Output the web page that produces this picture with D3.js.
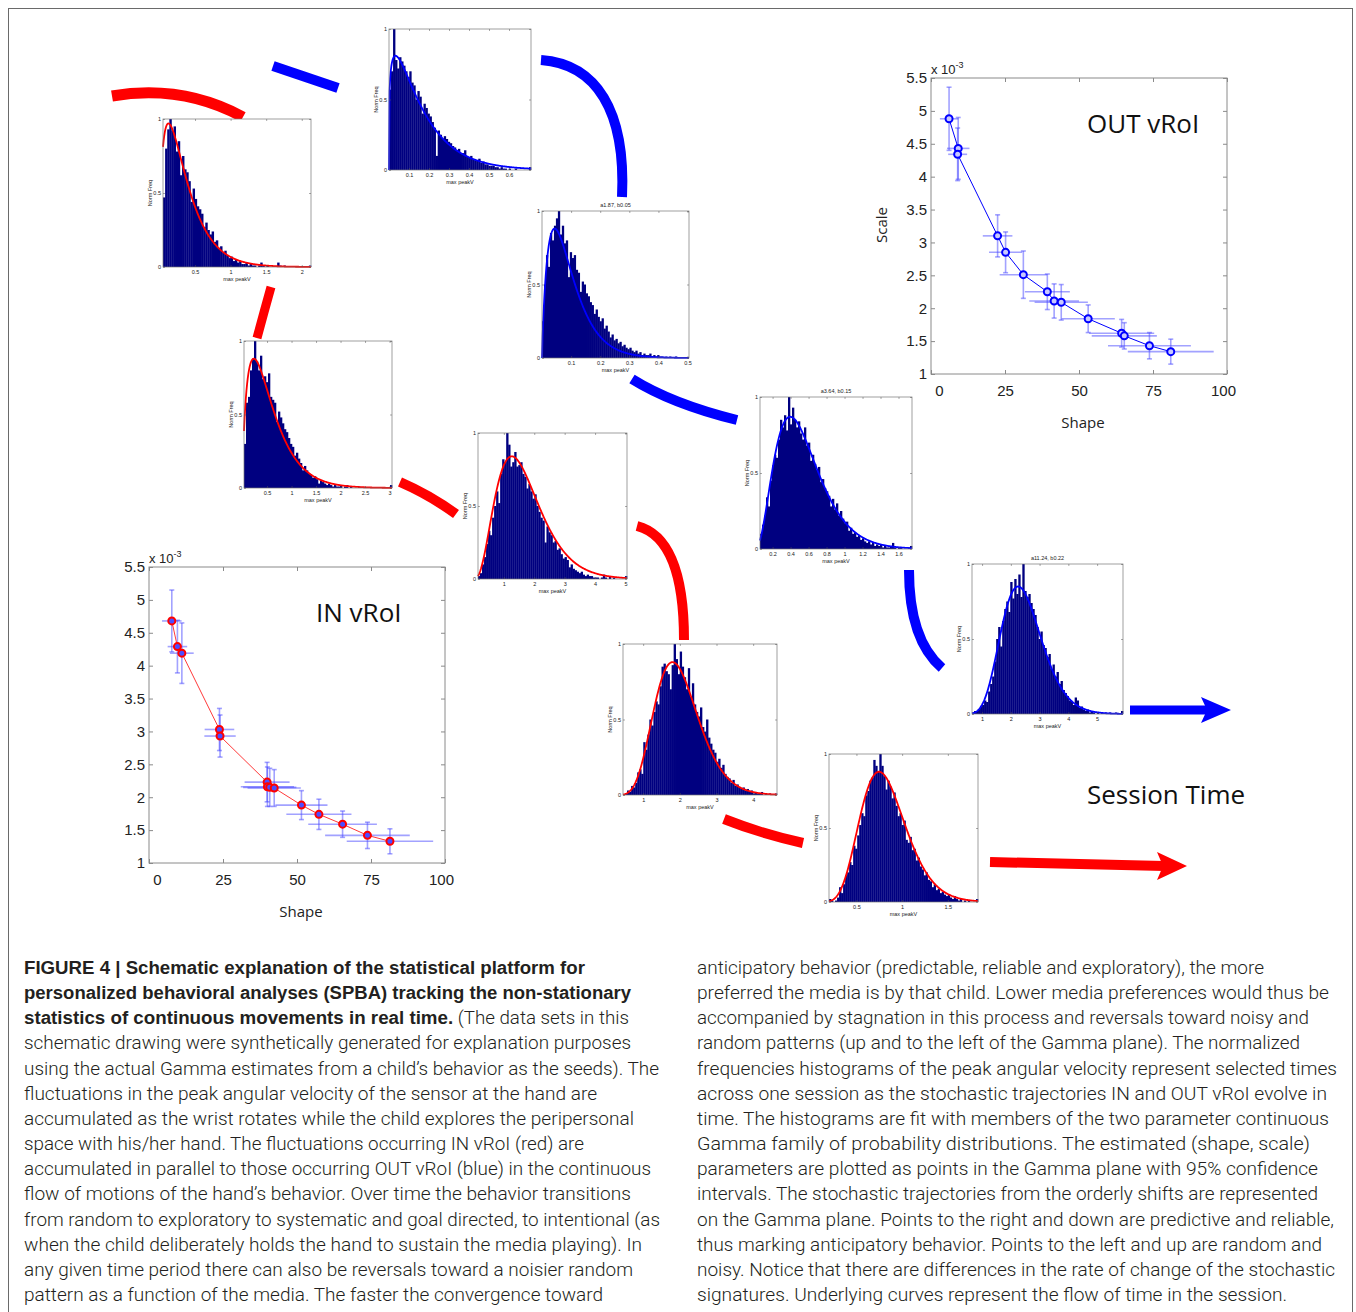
<!DOCTYPE html>
<html>
<head>
<meta charset="utf-8">
<script src="https://cdn.jsdelivr.net/npm/d3@7"></script>
<style>
  body { margin: 0; background: #fff; }
  svg { display: block; }
</style>
</head>
<body>
<svg id="fig" width="1356" height="1312"></svg>
<script>
// ---------------- Histogram data (normalized frequency per bin) ----------------
const hist1Values = [0.47,0.80,0.93,1.00,0.92,0.95,0.78,0.85,0.62,0.75,
  0.66,0.64,0.58,0.44,0.53,0.46,0.41,0.39,0.36,0.27,
  0.30,0.25,0.22,0.24,0.17,0.18,0.13,0.14,0.10,0.11,
  0.08,0.06,0.07,0.04,0.05,0.03,0.04,0.02,0.02,0.03,
  0.01,0.02,0.01,0.01,0.00,0.01,0.03,0.01,0.00,0.01,
  0.00,0.00,0.00,0.00,0.03,0.01,0.00,0.01,0.00,0.00,
  0.00,0.00,0.00,0.00,0.00,0.00,0.00,0.00,0.00,0.01];
const hist2Values = [0.57,0.70,1.00,0.78,0.72,0.80,0.77,0.74,0.70,0.66,
  0.70,0.62,0.60,0.50,0.56,0.52,0.40,0.47,0.44,0.40,
  0.38,0.34,0.30,0.10,0.28,0.25,0.22,0.24,0.22,0.20,
  0.19,0.17,0.16,0.14,0.15,0.12,0.12,0.14,0.10,0.09,
  0.10,0.08,0.07,0.07,0.08,0.05,0.06,0.04,0.04,0.03,
  0.03,0.03,0.02,0.02,0.01,0.02,0.01,0.01,0.00,0.01,
  0.00,0.00,0.01,0.00,0.00,0.00,0.00,0.00,0.00,0.02];
const hist3Values = [0.25,0.50,0.70,0.62,0.85,0.80,0.90,0.95,1.00,0.84,
  0.90,0.78,0.80,0.55,0.72,0.68,0.70,0.60,0.58,0.45,
  0.52,0.50,0.44,0.42,0.38,0.36,0.30,0.33,0.28,0.25,
  0.27,0.20,0.22,0.18,0.14,0.16,0.12,0.13,0.10,0.11,
  0.08,0.09,0.07,0.06,0.07,0.05,0.04,0.05,0.03,0.04,
  0.02,0.03,0.02,0.02,0.03,0.01,0.02,0.01,0.02,0.01,
  0.01,0.00,0.01,0.00,0.01,0.00,0.00,0.01,0.00,0.00,
  0.00,0.00,0.00,0.00];
const hist4Values = [0.30,0.58,0.62,0.80,0.88,1.00,0.86,0.80,0.90,0.74,
  0.76,0.72,0.78,0.62,0.60,0.58,0.45,0.52,0.48,0.44,
  0.40,0.38,0.34,0.30,0.28,0.22,0.24,0.20,0.17,0.12,
  0.15,0.12,0.10,0.09,0.07,0.08,0.06,0.03,0.05,0.04,
  0.03,0.02,0.03,0.02,0.01,0.02,0.01,0.01,0.02,0.00,
  0.01,0.02,0.00,0.01,0.00,0.00,0.00,0.01,0.00,0.00,
  0.00,0.00,0.00,0.00,0.00,0.00,0.00,0.00,0.00,0.00,
  0.00,0.00,0.00,0.02];
const hist5Values = [0.02,0.04,0.10,0.15,0.24,0.33,0.30,0.42,0.50,0.60,
  0.52,0.72,0.82,0.80,1.00,0.92,0.77,0.80,0.87,0.77,
  0.78,0.80,0.72,0.70,0.62,0.65,0.60,0.55,0.58,0.50,
  0.46,0.42,0.40,0.25,0.36,0.32,0.30,0.25,0.26,0.20,
  0.21,0.17,0.14,0.15,0.13,0.08,0.10,0.07,0.06,0.05,
  0.04,0.05,0.03,0.02,0.03,0.02,0.02,0.01,0.01,0.01,
  0.00,0.01,0.03,0.01,0.00,0.02,0.00,0.01,0.00,0.00,
  0.00,0.00,0.00,0.02];
const hist6Values = [0.10,0.16,0.22,0.34,0.28,0.45,0.55,0.62,0.60,0.72,
  0.85,0.80,0.88,0.78,1.00,0.82,0.93,0.85,0.80,0.84,
  0.76,0.72,0.80,0.68,0.70,0.58,0.62,0.56,0.52,0.54,
  0.44,0.46,0.40,0.38,0.35,0.28,0.33,0.26,0.30,0.22,
  0.25,0.20,0.17,0.18,0.12,0.14,0.10,0.11,0.08,0.09,
  0.06,0.07,0.05,0.04,0.05,0.03,0.04,0.02,0.03,0.02,
  0.03,0.01,0.02,0.01,0.01,0.02,0.04,0.01,0.00,0.01,
  0.01,0.00,0.00,0.00,0.01,0.02];
const hist7Values = [0.00,0.01,0.03,0.02,0.06,0.05,0.08,0.15,0.17,0.14,
  0.35,0.30,0.40,0.50,0.46,0.55,0.62,0.60,0.72,0.85,
  0.87,0.82,0.80,0.70,0.86,1.00,0.90,0.80,0.95,0.85,
  0.78,0.70,0.84,0.65,0.74,0.60,0.55,0.52,0.58,0.45,
  0.42,0.50,0.38,0.34,0.30,0.28,0.22,0.24,0.18,0.20,
  0.14,0.12,0.11,0.08,0.10,0.06,0.07,0.05,0.04,0.05,
  0.03,0.04,0.02,0.03,0.01,0.02,0.01,0.01,0.02,0.00,
  0.01,0.00,0.01,0.00,0.00,0.01];
const hist8Values = [0.01,0.02,0.02,0.03,0.05,0.06,0.09,0.08,0.15,0.20,
  0.25,0.35,0.50,0.58,0.45,0.62,0.70,0.75,0.68,0.88,
  0.77,0.90,0.80,0.93,0.78,1.00,0.82,0.78,0.80,0.74,
  0.70,0.66,0.58,0.50,0.55,0.46,0.44,0.38,0.40,0.30,
  0.33,0.25,0.28,0.20,0.22,0.16,0.14,0.12,0.09,0.08,
  0.06,0.11,0.09,0.04,0.05,0.03,0.02,0.03,0.01,0.02,
  0.01,0.00,0.01,0.00,0.01,0.00,0.01,0.00,0.01,0.00,
  0.00,0.01,0.00,0.00,0.02];
const hist9Values = [0.02,0.01,0.00,0.01,0.03,0.10,0.06,0.12,0.18,0.20,
  0.27,0.25,0.38,0.36,0.45,0.52,0.60,0.58,0.72,0.75,
  0.82,0.84,0.96,0.92,0.88,1.00,0.92,0.85,0.76,0.82,
  0.78,0.70,0.74,0.65,0.58,0.60,0.52,0.55,0.42,0.40,
  0.44,0.35,0.36,0.28,0.30,0.24,0.22,0.18,0.20,0.15,
  0.14,0.10,0.12,0.08,0.09,0.06,0.07,0.05,0.04,0.05,
  0.03,0.02,0.04,0.02,0.01,0.02,0.00,0.01,0.00,0.01,
  0.00,0.00,0.00,0.02];

// Value range of "max peakV" covered by each histogram's bins
const histRanges = [[0.05,2.13],[0.0,0.71],[0.0,0.505],[0.03,3.05],[0.15,5.05],
                    [0.06,1.75],[0.45,4.65],[0.65,5.9],[0.2,1.83]];
// Tick labels on each histogram's x axis
const histTicks = [[0.5,1,1.5,2],[0.1,0.2,0.3,0.4,0.5,0.6],[0.1,0.2,0.3,0.4,0.5],
                   [0.5,1,1.5,2,2.5,3],[1,2,3,4,5],[0.2,0.4,0.6,0.8,1,1.2,1.4,1.6],
                   [1,2,3,4],[1,2,3,4,5],[0.5,1,1.5]];
const histTitles = ["","","a1.87, b0.05","","","a3.64, b0.15","","a11.24, b0.22",""];
const normTicks = [0,0.5,1];

// Gamma fit for each histogram: shape (a), scale (b), fitted peak height
const fitShape = [1.55,1.25,1.87,1.7,4.0,3.64,10.0,11.24,10.0];
const fitScale = [0.23,0.13,0.05,0.33,0.42,0.15,0.20,0.22,0.083];
const fitPeak  = [0.97,0.81,0.88,0.88,0.84,0.87,0.88,0.85,0.88];
// Condition of each histogram: IN vRoI (red) or OUT vRoI (blue)
const histGroup = ["IN","OUT","OUT","IN","IN","OUT","IN","OUT","IN"];

// ---------------- Gamma plane estimates (scale in units of 1e-3) ----------------
const outShape    = [6.1,9.2,9.0,22.5,25.2,31.2,39.3,41.6,44.0,53.1,64.4,65.3,73.8,81.0];
const outScale    = [4.88,4.43,4.34,3.10,2.85,2.51,2.25,2.11,2.09,1.84,1.62,1.58,1.43,1.34];
const outShapeErr = [3.1,3.8,3.2,5.0,5.6,8.0,7.6,8.4,9.0,9.0,11.0,11.0,14.0,14.5];
const outScaleErr = [0.48,0.47,0.40,0.32,0.31,0.36,0.27,0.26,0.27,0.21,0.21,0.20,0.20,0.19];

const inShape    = [7.7,9.6,11.1,23.8,24.0,39.9,40.0,40.8,42.3,51.5,57.4,65.4,73.8,81.4];
const inScale    = [4.68,4.29,4.19,3.03,2.93,2.23,2.16,2.15,2.14,1.88,1.74,1.59,1.42,1.33];
const inShapeErr = [3.3,3.3,4.0,5.0,5.3,7.6,9.0,9.0,9.0,8.8,11.0,11.6,14.3,14.6];
const inScaleErr = [0.47,0.40,0.46,0.32,0.32,0.30,0.30,0.29,0.28,0.22,0.23,0.20,0.20,0.19];

const shapeTicks = [0,25,50,75,100];
const scaleTicks = [1,1.5,2,2.5,3,3.5,4,4.5,5,5.5];

// ---------------- Caption ----------------
const captionLeft = [
  ["FIGURE 4 | Schematic explanation of the statistical platform for", ""],
  ["personalized behavioral analyses (SPBA) tracking the non-stationary", ""],
  ["statistics of continuous movements in real time.", " (The data sets in this"],
  ["", "schematic drawing were synthetically generated for explanation purposes"],
  ["", "using the actual Gamma estimates from a child\u2019s behavior as the seeds). The"],
  ["", "fluctuations in the peak angular velocity of the sensor at the hand are"],
  ["", "accumulated as the wrist rotates while the child explores the peripersonal"],
  ["", "space with his/her hand. The fluctuations occurring IN vRoI (red) are"],
  ["", "accumulated in parallel to those occurring OUT vRoI (blue) in the continuous"],
  ["", "flow of motions of the hand\u2019s behavior. Over time the behavior transitions"],
  ["", "from random to exploratory to systematic and goal directed, to intentional (as"],
  ["", "when the child deliberately holds the hand to sustain the media playing). In"],
  ["", "any given time period there can also be reversals toward a noisier random"],
  ["", "pattern as a function of the media. The faster the convergence toward"]
];
const captionRight = [
  "anticipatory behavior (predictable, reliable and exploratory), the more",
  "preferred the media is by that child. Lower media preferences would thus be",
  "accompanied by stagnation in this process and reversals toward noisy and",
  "random patterns (up and to the left of the Gamma plane). The normalized",
  "frequencies histograms of the peak angular velocity represent selected times",
  "across one session as the stochastic trajectories IN and OUT vRoI evolve in",
  "time. The histograms are fit with members of the two parameter continuous",
  "Gamma family of probability distributions. The estimated (shape, scale)",
  "parameters are plotted as points in the Gamma plane with 95% confidence",
  "intervals. The stochastic trajectories from the orderly shifts are represented",
  "on the Gamma plane. Points to the right and down are predictive and reliable,",
  "thus marking anticipatory behavior. Points to the left and up are random and",
  "noisy. Notice that there are differences in the rate of change of the stochastic",
  "signatures. Underlying curves represent the flow of time in the session."
];

// ================= layout & style =================
const RED = "#ff0000", BLUE = "#0000ff", NAVY = "#000080";
const histValues = [hist1Values,hist2Values,hist3Values,hist4Values,hist5Values,
                    hist6Values,hist7Values,hist8Values,hist9Values];
const histBoxes = [
  {x:163, y:119, w:148, h:148},
  {x:389, y:29,  w:142, h:141},
  {x:542, y:211, w:147, h:147},
  {x:244, y:341, w:148, h:147},
  {x:478, y:433, w:149, h:146},
  {x:760, y:397, w:152, h:152},
  {x:623, y:644, w:154, h:151},
  {x:972, y:564, w:151, h:150},
  {x:829, y:754, w:149, h:148}
];
// Thick schematic strokes showing the flow of session time
const flowStrokes = [
  {group:"IN",  w:11, d:"M112,96 Q182,84 243,117"},
  {group:"IN",  w:9,  d:"M271,287 Q264,312 257,338"},
  {group:"IN",  w:10, d:"M400,482 Q430,495 456,514"},
  {group:"IN",  w:10, d:"M637,526 Q684,538 684,640"},
  {group:"IN",  w:10, d:"M724,819 Q762,834 803,843"},
  {group:"IN",  w:10, d:"M990,862 Q1080,864 1164,866"},
  {group:"OUT", w:10, d:"M273,66 L338,88"},
  {group:"OUT", w:10, d:"M541,60 C596,64 626,110 622,197"},
  {group:"OUT", w:10, d:"M632,379 Q672,404 737,420"},
  {group:"OUT", w:10, d:"M909,570 Q909,640 942,668"},
  {group:"OUT", w:9,  d:"M1130,710 L1207,710"}
];
const arrowHeads = [
  {group:"IN",  pts:[[1157,852],[1187,866],[1157,880],[1163,866]]},
  {group:"OUT", pts:[[1201,697],[1231,710],[1201,723],[1207,710]]}
];
const groupColor = g => g === "IN" ? RED : BLUE;

const svg = d3.select("#fig");
svg.append("rect").attr("width",1356).attr("height",1312).attr("fill","#fff");
svg.append("rect").attr("x",8.5).attr("y",8.5).attr("width",1344).attr("height",1330)
  .attr("fill","none").attr("stroke","#6a6a6a").attr("stroke-width",1);

// ---- flow strokes ----
svg.append("g").selectAll("path").data(flowStrokes).join("path")
  .attr("d", d => d.d).attr("fill","none")
  .attr("stroke", d => groupColor(d.group)).attr("stroke-width", d => d.w);
svg.append("g").selectAll("polygon").data(arrowHeads).join("polygon")
  .attr("points", d => d.pts.map(p => p.join(",")).join(" "))
  .attr("fill", d => groupColor(d.group));

// ---- histograms ----
function gammaRatio(v, a, b) {
  const m = (a - 1) * b;
  return Math.exp((a - 1) * Math.log(v / m) - (v - m) / b);
}

function styleSmallAxis(sel) {
  sel.attr("font-size", 5.5).attr("font-family", "Liberation Sans, Arial, sans-serif");
  sel.select(".domain").remove();
  sel.selectAll(".tick line").attr("stroke", "#555").attr("stroke-width", 0.5);
  sel.selectAll(".tick text").attr("fill", "#222");
}

histValues.forEach((vals, i) => {
  const box = histBoxes[i], dom = histRanges[i];
  const color = groupColor(histGroup[i]);
  const g = svg.append("g");
  const x = d3.scaleLinear().domain(dom).range([box.x, box.x + box.w]);
  const y = d3.scaleLinear().domain([0, 1]).range([box.y + box.h, box.y]);
  const bw = (dom[1] - dom[0]) / vals.length;

  g.append("rect").attr("x", box.x).attr("y", box.y).attr("width", box.w).attr("height", box.h)
    .attr("fill", "#fff");

  g.selectAll("rect.bar").data(vals).join("rect").attr("class", "bar")
    .attr("x", (d, j) => x(dom[0] + j * bw))
    .attr("width", x(dom[0] + bw) - x(dom[0]) + 0.3)
    .attr("y", d => y(d))
    .attr("height", d => y(0) - y(d))
    .attr("fill", NAVY);

  const xs = d3.range(0, 241).map(k => dom[0] + (dom[1] - dom[0]) * k / 240);
  g.append("path").datum(xs)
    .attr("d", d3.line().x(v => x(v)).y(v => y(fitPeak[i] * gammaRatio(v, fitShape[i], fitScale[i]))))
    .attr("fill", "none").attr("stroke", color).attr("stroke-width", 1.8);

  g.append("rect").attr("x", box.x).attr("y", box.y).attr("width", box.w).attr("height", box.h)
    .attr("fill", "none").attr("stroke", "#777").attr("stroke-width", 0.7);

  g.append("g").attr("transform", `translate(0,${box.y + box.h})`)
    .call(d3.axisBottom(x).tickValues(histTicks[i]).tickSize(-2).tickPadding(3).tickFormat(d3.format("~g")))
    .call(styleSmallAxis);
  g.append("g").attr("transform", `translate(0,${box.y})`)
    .call(d3.axisTop(x).tickValues(histTicks[i]).tickSize(-2).tickFormat(""))
    .call(styleSmallAxis);
  g.append("g").attr("transform", `translate(${box.x},0)`)
    .call(d3.axisLeft(y).tickValues(normTicks).tickSize(-2).tickPadding(2).tickFormat(d3.format("~g")))
    .call(styleSmallAxis);
  g.append("g").attr("transform", `translate(${box.x + box.w},0)`)
    .call(d3.axisRight(y).tickValues(normTicks).tickSize(-2).tickFormat(""))
    .call(styleSmallAxis);

  g.append("text").attr("x", box.x + box.w / 2).attr("y", box.y + box.h + 14)
    .attr("text-anchor", "middle").attr("font-size", 5.5)
    .attr("font-family", "Liberation Sans, Arial, sans-serif").attr("fill", "#222").text("max peakV");
  g.append("text")
    .attr("transform", `translate(${box.x - 11},${box.y + box.h / 2}) rotate(-90)`)
    .attr("text-anchor", "middle").attr("font-size", 5.5)
    .attr("font-family", "Liberation Sans, Arial, sans-serif").attr("fill", "#222").text("Norm Freq");
  if (histTitles[i]) {
    g.append("text").attr("x", box.x + box.w / 2).attr("y", box.y - 4)
      .attr("text-anchor", "middle").attr("font-size", 5.5)
      .attr("font-family", "Liberation Sans, Arial, sans-serif").attr("fill", "#222").text(histTitles[i]);
  }
});

// ---- Gamma planes ----
function drawPlane(opt) {
  const box = opt.box;
  const g = svg.append("g");
  const x = d3.scaleLinear().domain([0, 100]).range([box.x, box.x + box.w]);
  const y = d3.scaleLinear().domain([1, 5.5]).range([box.y + box.h, box.y]);

  g.append("rect").attr("x", box.x).attr("y", box.y).attr("width", box.w).attr("height", box.h)
    .attr("fill", "#fff").attr("stroke", "#8a8a8a").attr("stroke-width", 1);

  const styleAxis = sel => {
    sel.attr("font-size", 15).attr("font-family", "Liberation Sans, Arial, sans-serif");
    sel.select(".domain").remove();
    sel.selectAll(".tick line").attr("stroke", "#8a8a8a").attr("stroke-width", 1);
    sel.selectAll(".tick text").attr("fill", "#222");
  };
  const xAxis = g.append("g").attr("transform", `translate(0,${box.y + box.h})`)
    .call(d3.axisBottom(x).tickValues(shapeTicks).tickSize(-4).tickPadding(11)).call(styleAxis);
  // end labels sit slightly inside the frame
  xAxis.selectAll(".tick text").attr("dx", d => d === 0 ? 8 : (d === 100 ? -4 : 0));
  g.append("g").attr("transform", `translate(0,${box.y})`)
    .call(d3.axisTop(x).tickValues(shapeTicks).tickSize(-4).tickFormat("")).call(styleAxis);
  g.append("g").attr("transform", `translate(${box.x},0)`)
    .call(d3.axisLeft(y).tickValues(scaleTicks).tickSize(-4).tickPadding(4).tickFormat(d3.format("~g"))).call(styleAxis);
  g.append("g").attr("transform", `translate(${box.x + box.w},0)`)
    .call(d3.axisRight(y).tickValues(scaleTicks).tickSize(-4).tickFormat("")).call(styleAxis);

  const exp = g.append("text").attr("x", box.x).attr("y", box.y - 4)
    .attr("font-size", 13).attr("font-family", "Liberation Sans, Arial, sans-serif").attr("fill", "#222");
  exp.append("tspan").text("x 10");
  exp.append("tspan").attr("dy", -6).attr("font-size", 9).text("-3");

  const pts = opt.shape.map((s, k) => ({s, c: opt.scale[k], es: opt.shapeErr[k], ec: opt.scaleErr[k]}));
  const errColor = "rgba(70,70,255,0.5)";
  const eb = g.append("g").attr("stroke", errColor).attr("stroke-width", 1.6);
  pts.forEach(p => {
    eb.append("line").attr("x1", x(p.s - p.es)).attr("x2", x(p.s + p.es)).attr("y1", y(p.c)).attr("y2", y(p.c));
    eb.append("line").attr("x1", x(p.s)).attr("x2", x(p.s)).attr("y1", y(p.c - p.ec)).attr("y2", y(p.c + p.ec));
    [p.c - p.ec, p.c + p.ec].forEach(v => eb.append("line")
      .attr("x1", x(p.s) - 2.5).attr("x2", x(p.s) + 2.5).attr("y1", y(v)).attr("y2", y(v)));
  });
  g.append("path").datum(pts)
    .attr("d", d3.line().x(p => x(p.s)).y(p => y(p.c)))
    .attr("fill", "none").attr("stroke", opt.lineColor).attr("stroke-width", 1);
  g.selectAll("circle").data(pts).join("circle")
    .attr("cx", p => x(p.s)).attr("cy", p => y(p.c)).attr("r", 3.5)
    .attr("fill", opt.markerFill).attr("stroke", opt.markerStroke).attr("stroke-width", 2);

  g.append("text").attr("x", opt.titleX).attr("y", opt.titleY)
    .attr("font-size", 26).attr("font-family", "Open Sans, sans-serif").attr("fill", "#111")
    .text(opt.title);
  g.append("text").attr("x", box.x + box.w / 2 + 4).attr("y", box.y + box.h + 54)
    .attr("text-anchor", "middle").attr("font-size", 15)
    .attr("font-family", "Open Sans, sans-serif").attr("fill", "#222").text("Shape");
  if (opt.yLabel) {
    g.append("text")
      .attr("transform", `translate(${box.x - 44},${box.y + box.h / 2 - 1}) rotate(-90)`)
      .attr("text-anchor", "middle").attr("font-size", 15)
      .attr("font-family", "Open Sans, sans-serif").attr("fill", "#222").text(opt.yLabel);
  }
}

drawPlane({
  box: {x: 931, y: 78, w: 296, h: 296},
  shape: outShape, scale: outScale, shapeErr: outShapeErr, scaleErr: outScaleErr,
  lineColor: BLUE, markerStroke: BLUE, markerFill: "#c8c8ff",
  title: "OUT vRoI", titleX: 1087, titleY: 133, yLabel: "Scale"
});
drawPlane({
  box: {x: 149, y: 567, w: 296, h: 296},
  shape: inShape, scale: inScale, shapeErr: inShapeErr, scaleErr: inScaleErr,
  lineColor: "#ff3a3a", markerStroke: RED, markerFill: "#4d4dff",
  title: "IN vRoI", titleX: 316, titleY: 622, yLabel: null
});

svg.append("text").attr("x", 1087).attr("y", 804)
  .attr("font-size", 26).attr("font-family", "Open Sans, sans-serif").attr("fill", "#111")
  .text("Session Time");

// ---- caption ----
const capLeftEnds  = [585,631,629,631,659,597,634,584,651,631,660,642,633,603];
const capRightEnds = [1264,1329,1309,1300,1337,1327,1329,1310,1318,1318,1334,1322,1335,1287];
const capTop = 974, capStep = 25.15;
const cap = svg.append("g").attr("font-family", "Roboto, Liberation Sans, Arial, sans-serif")
  .attr("font-weight", 300).attr("font-size", 17.5).attr("fill", "#231f20");
captionLeft.forEach((parts, k) => {
  const t = cap.append("text").attr("x", 24).attr("y", capTop + k * capStep)
    .attr("textLength", capLeftEnds[k] - 24).attr("lengthAdjust", "spacingAndGlyphs");
  if (parts[0]) t.append("tspan").attr("font-weight", "bold")
    .attr("font-family", "Liberation Sans, Arial, sans-serif").text(parts[0]);
  if (parts[1]) t.append("tspan").text(parts[1]);
});
captionRight.forEach((line, k) => {
  cap.append("text").attr("x", 697).attr("y", capTop + k * capStep)
    .attr("textLength", capRightEnds[k] - 697).attr("lengthAdjust", "spacingAndGlyphs")
    .text(line);
});
</script>
</body>
</html>
